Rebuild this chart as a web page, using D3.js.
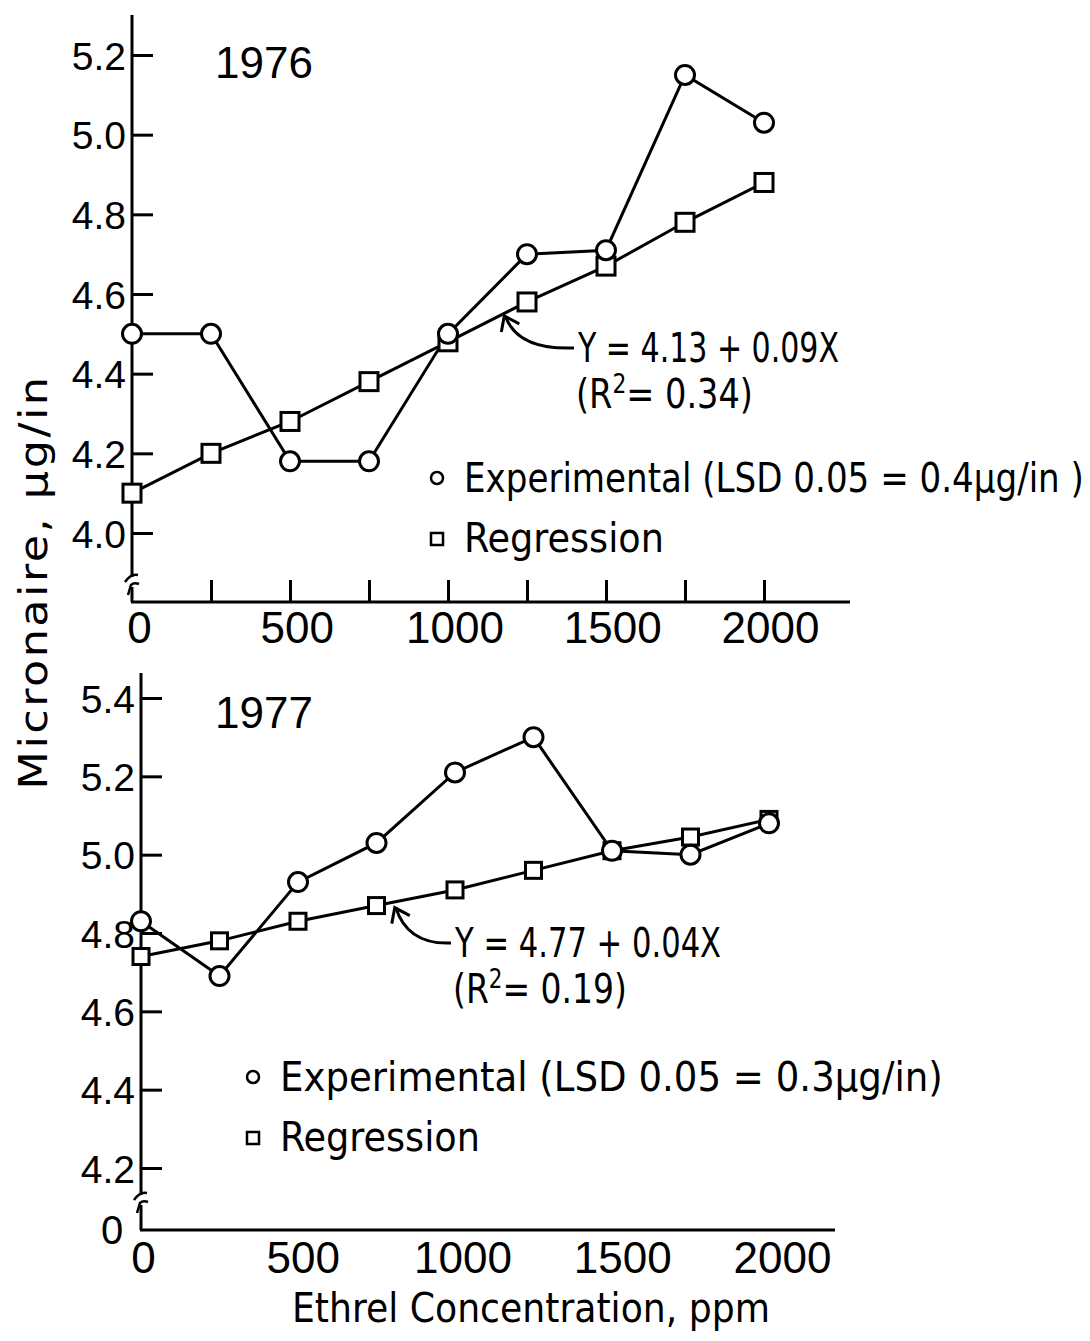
<!DOCTYPE html>
<html>
<head>
<meta charset="utf-8">
<script src="https://cdn.jsdelivr.net/npm/d3@7"></script>
<style>
  html, body { margin: 0; padding: 0; background: #fff; }
  text { font-family: "DejaVu Sans Condensed", "DejaVu Sans", "Liberation Sans", sans-serif; fill: #000; }
</style>
</head>
<body>
<svg id="chart" width="1090" height="1341"></svg>
<script>
// ---- data ----
const concentrations = [0, 250, 500, 750, 1000, 1250, 1500, 1750, 2000];
const exp1976 = [4.50, 4.50, 4.18, 4.18, 4.50, 4.70, 4.71, 5.15, 5.03];
const reg1976 = [4.10, 4.20, 4.28, 4.38, 4.48, 4.58, 4.67, 4.78, 4.88];
const exp1977 = [4.83, 4.69, 4.93, 5.03, 5.21, 5.30, 5.01, 5.00, 5.08];
const reg1977 = [4.74, 4.78, 4.83, 4.87, 4.91, 4.96, 5.01, 5.045, 5.09];
const yTicks1976 = [4.0, 4.2, 4.4, 4.6, 4.8, 5.0, 5.2];
const yTicks1977 = [4.2, 4.4, 4.6, 4.8, 5.0, 5.2, 5.4];
const xTickLabels = [0, 500, 1000, 1500, 2000];
const xTickMarks1976 = [250, 500, 750, 1000, 1250, 1500, 1750, 2000];
const panelTitles = ["1976", "1977"];
const equations = ["Y = 4.13 + 0.09X", "Y = 4.77 + 0.04X"];
const r2Values = ["0.34", "0.19"];
const legendLabels = ["Experimental (LSD 0.05 = 0.4\u03bcg/in )", "Experimental (LSD 0.05 = 0.3\u03bcg/in)"];
const regressionLabel = "Regression";
const yAxisTitle = "Micronaire, \u03bcg/in";
const xAxisTitle = "Ethrel Concentration, ppm";

const svg = d3.select("#chart");
const SW = 3;

// horizontally squeeze a text so that its width matches w (keeps left edge / anchor)
function fitWidth(sel, w) {
  const node = sel.node();
  const bb = node.getBBox();
  const k = w / bb.width;
  const ax = +sel.attr("x") || 0;
  const pre = sel.attr("transform") || "";
  sel.attr("transform", `${pre} translate(${ax},0) scale(${k},1) translate(${-ax},0)`);
  return sel;
}

function drawPanel(cfg) {
  const g = svg.append("g");
  const x = d3.scaleLinear().domain([0, 2000]).range(cfg.xRange);
  const xLab = d3.scaleLinear().domain([0, 2000]).range(cfg.xLabelRange);
  const y = d3.scaleLinear().domain(cfg.yDomain).range(cfg.yRange);

  // y axis line
  g.append("line").attr("x1", x(0)).attr("x2", x(0))
    .attr("y1", cfg.yTop).attr("y2", cfg.xAxisY)
    .attr("stroke", "#000").attr("stroke-width", SW);
  // x axis line
  g.append("line").attr("x1", x(0) - 1).attr("x2", cfg.xEnd)
    .attr("y1", cfg.xAxisY).attr("y2", cfg.xAxisY)
    .attr("stroke", "#000").attr("stroke-width", SW);
  // break mark on y axis
  const by = cfg.breakY;
  g.append("rect").attr("x", x(0) - 3).attr("y", by - 2).attr("width", 6).attr("height", 10).attr("fill", "#fff");
  g.append("path")
    .attr("d", `M${x(0)-7},${by+3} Q${x(0)-1},${by-6} ${x(0)+6},${by-4} M${x(0)-4},${by+16} L${x(0)-1},${by+6} Q${x(0)+2},${by+3} ${x(0)+7},${by+5}`)
    .attr("fill", "none").attr("stroke", "#000").attr("stroke-width", 2.5);

  // y ticks via axis
  const yAxis = d3.axisLeft(y).tickValues(cfg.yTicks).tickSize(-21).tickPadding(6)
    .tickFormat(d3.format(".1f"));
  const ya = g.append("g").attr("transform", `translate(${x(0)},0)`).call(yAxis);
  ya.select(".domain").remove();
  ya.selectAll(".tick line").attr("stroke", "#000").attr("stroke-width", SW);
  ya.selectAll(".tick text").attr("font-size", 39).attr("dy", "0.36em")
    .style("font-family", "'Liberation Sans', sans-serif");

  // x tick marks (top panel only)
  if (cfg.xTickMarks) {
    const xm = d3.axisBottom(x).tickValues(cfg.xTickMarks).tickSize(-22).tickFormat("");
    const xmg = g.append("g").attr("transform", `translate(0,${cfg.xAxisY})`).call(xm);
    xmg.select(".domain").remove();
    xmg.selectAll(".tick line").attr("stroke", "#000").attr("stroke-width", SW);
  }
  // x tick labels
  const xl = d3.axisBottom(xLab).tickValues(xTickLabels).tickSize(0).tickPadding(cfg.xLabelPad)
    .tickFormat(d3.format("d"));
  const xlg = g.append("g").attr("transform", `translate(0,${cfg.xAxisY})`).call(xl);
  xlg.select(".domain").remove();
  xlg.selectAll(".tick text").attr("font-size", 44)
    .style("font-family", "'Liberation Sans', sans-serif");

  // lines
  const line = d3.line().x((d, i) => x(concentrations[i])).y(d => y(d));
  g.append("path").datum(cfg.exp).attr("d", line)
    .attr("fill", "none").attr("stroke", "#000").attr("stroke-width", SW);
  g.append("path").datum(cfg.reg).attr("d", line)
    .attr("fill", "none").attr("stroke", "#000").attr("stroke-width", SW);

  // markers: squares then circles
  g.selectAll(".sq").data(cfg.reg).enter().append("rect")
    .attr("x", (d, i) => x(concentrations[i]) - cfg.sq / 2)
    .attr("y", d => y(d) - cfg.sq / 2)
    .attr("width", cfg.sq).attr("height", cfg.sq)
    .attr("fill", "#fff").attr("stroke", "#000").attr("stroke-width", SW);
  g.selectAll(".ci").data(cfg.exp).enter().append("circle")
    .attr("cx", (d, i) => x(concentrations[i]))
    .attr("cy", d => y(d)).attr("r", 9.5)
    .attr("fill", "#fff").attr("stroke", "#000").attr("stroke-width", SW);

  // title
  g.append("text").attr("x", cfg.titleX).attr("y", cfg.titleY)
    .attr("font-size", 44).style("font-family", "'Liberation Sans', sans-serif")
    .text(cfg.title);

  // equation + arrow
  const ax = x(cfg.arrowAt), ay = y(cfg.arrowVal);
  g.append("path")
    .attr("d", `M${cfg.eqX - 4},${cfg.eqY - 14} Q${ax + 14},${cfg.eqY - 12} ${ax + 2},${ay + 4}`)
    .attr("fill", "none").attr("stroke", "#000").attr("stroke-width", SW);
  g.append("path")
    .attr("d", `M${ax - 2},${ay + 20} L${ax + 1},${ay + 4} L${ax + 16},${ay + 12}`)
    .attr("fill", "none").attr("stroke", "#000").attr("stroke-width", SW);
  const eqT = g.append("text").attr("x", cfg.eqX).attr("y", cfg.eqY)
    .attr("font-size", 40).text(cfg.eq);
  fitWidth(eqT, cfg.eqW);
  const r2 = g.append("text").attr("x", cfg.eqX - 2).attr("y", cfg.eqY + 46)
    .attr("font-size", 40);
  r2.append("tspan").text("(R");
  r2.append("tspan").attr("dy", -15).attr("font-size", 26).text("2");
  r2.append("tspan").attr("dy", 15).text("= " + cfg.r2 + ")");
  fitWidth(r2, cfg.r2W);

  // legend
  g.append("circle").attr("cx", cfg.legX).attr("cy", cfg.legY - 14).attr("r", 6)
    .attr("fill", "#fff").attr("stroke", "#000").attr("stroke-width", 2.5);
  const lt = g.append("text").attr("x", cfg.legX + 27).attr("y", cfg.legY)
    .attr("font-size", 41).text(cfg.legend);
  fitWidth(lt, cfg.legW);
  g.append("rect").attr("x", cfg.legX - 6).attr("y", cfg.legY + 41).attr("width", 12).attr("height", 12)
    .attr("fill", "#fff").attr("stroke", "#000").attr("stroke-width", 2.5);
  const rt = g.append("text").attr("x", cfg.legX + 27).attr("y", cfg.legY + 60)
    .attr("font-size", 41).text(regressionLabel);
  fitWidth(rt, 200);

  return g;
}

drawPanel({
  xRange: [132, 764], xLabelRange: [139, 770], yDomain: [4.0, 5.2], yRange: [533, 55],
  yTop: 15, xAxisY: 602, xEnd: 850, breakY: 579,
  yTicks: yTicks1976, xTickMarks: xTickMarks1976, xLabelPad: 10,
  exp: exp1976, reg: reg1976, sq: 18,
  title: panelTitles[0], titleX: 215, titleY: 78,
  eq: equations[0], eqW: 262, r2: r2Values[0], r2W: 177, eqX: 578, eqY: 362,
  arrowAt: 1175, arrowVal: 4.555,
  legend: legendLabels[0], legW: 620, legX: 437, legY: 492
});

const p2 = drawPanel({
  xRange: [141, 769], xLabelRange: [143, 782], yDomain: [4.2, 5.4], yRange: [1168, 698],
  yTop: 673, xAxisY: 1230, xEnd: 835, breakY: 1197,
  yTicks: yTicks1977, xTickMarks: null, xLabelPad: 12,
  exp: exp1977, reg: reg1977, sq: 16,
  title: panelTitles[1], titleX: 215, titleY: 728,
  eq: equations[1], eqW: 267, r2: r2Values[1], r2W: 174, eqX: 455, eqY: 957,
  arrowAt: 805, arrowVal: 4.875,
  legend: legendLabels[1], legW: 663, legX: 253, legY: 1091
});
// zero label at origin of lower panel
p2.append("text").attr("x", 112).attr("y", 1244).attr("text-anchor", "middle")
  .attr("font-size", 40).style("font-family", "'Liberation Sans', sans-serif").text("0");

// axis titles
const yt = svg.append("text").attr("x", 0).attr("y", 0)
  .attr("text-anchor", "middle").attr("font-size", 39)
  .attr("letter-spacing", 2)
  .text(yAxisTitle);
const ybb = yt.node().getBBox();
yt.attr("transform", `translate(47,582) rotate(-90) scale(${415 / ybb.width},1)`);

const xt = svg.append("text").attr("x", 292).attr("y", 1322)
  .attr("font-size", 41)
  .text(xAxisTitle);
fitWidth(xt, 478);
</script>
</body>
</html>
